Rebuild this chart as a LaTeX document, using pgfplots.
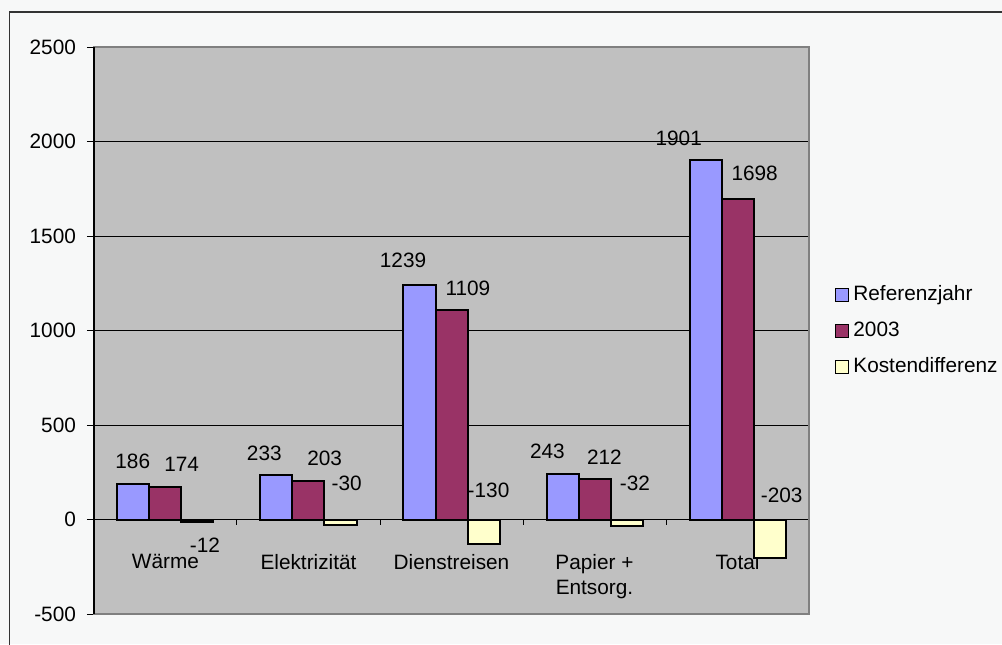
\documentclass[border=0pt]{standalone}
\usepackage{fontspec}
\setmainfont{Liberation Sans}
\usepackage{pgfplots}
\pgfplotsset{compat=1.18}
\definecolor{cblue}{HTML}{9999FF}
\definecolor{cred}{HTML}{993366}
\definecolor{cyel}{HTML}{FFFFCC}
\definecolor{plotbg}{HTML}{C0C0C0}
\definecolor{pagebg}{HTML}{F7F8F8}
\definecolor{bordergray}{HTML}{808080}
\newcommand{\lbl}{\fontsize{10.4}{12.5}\selectfont}
\begin{document}
\begin{tikzpicture}
\fill[pagebg] (0,0) rectangle (501pt,322pt);
\useasboundingbox (0,0) rectangle (501pt,322pt);
\draw[black!80, line width=0.9pt] (4.75pt,-10pt) rectangle (515pt,316pt);
\begin{axis}[
  at={(47pt,15pt)}, anchor=south west,
  scale only axis, width=357.5pt, height=283.5pt,
  xmin=-0.5, xmax=4.5, ymin=-500, ymax=2500,
  ytick={-500,0,500,1000,1500,2000,2500},
  xtick={0,1,2,3,4},
  xticklabels={Wärme,Elektrizität,Dienstreisen,{Papier +\\Entsorg.},Total},
  ybar=0pt, bar width=16pt,
  every axis plot/.append style={draw=black, line width=1pt},
  axis background/.style={fill=plotbg},
  axis line style={draw=bordergray, line width=0.75pt},
  ymajorgrids, grid style={black, line width=0.5pt},
  ytick pos=left, tick align=outside, major tick length=3.5pt,
  tick style={black, line width=0.5pt},
  xtick style={draw=none},
  yticklabel style={font=\lbl, xshift=-2pt},
  xticklabel style={font=\lbl, align=center, anchor=north, inner sep=0pt, yshift=33.5pt},
  /pgf/number format/assume math mode=true,
  /pgf/number format/1000 sep={},
  legend style={at={(1,0.5)}, anchor=west, xshift=13pt, draw=none, fill=none,
    inner sep=0pt, font=\lbl, cells={anchor=west}, row sep=3.5pt,
    nodes={text height=8pt, text depth=2.5pt}},
  legend image code/.code={\draw[#1, line width=0.5pt, draw=black] (0pt,-3.25pt) rectangle (6.5pt,3.25pt);},
  clip=false,
]
\addplot[fill=cblue, draw=black, line width=1pt] coordinates {(0,186) (1,233) (2,1239) (3,243) (4,1901)};
\addplot[fill=cred, draw=black, line width=1pt] coordinates {(0,174) (1,203) (2,1109) (3,212) (4,1698)};
\addplot[fill=cyel, draw=black, line width=1pt] coordinates {(0,-12) (1,-30) (2,-130) (3,-32) (4,-203)};
\legend{Referenzjahr,2003,Kostendifferenz}
\draw[black, line width=0.5pt] (axis cs:-0.5,0) -- (axis cs:4.5,0);
\pgfplotsinvokeforeach{-0.5,0.5,1.5,2.5,3.5,4.5}{\draw[black, line width=0.5pt] (axis cs:#1,0) -- ++(0pt,-2.5pt);}
\draw[bordergray, line width=0.75pt] (rel axis cs:0,0) -- (rel axis cs:1,0) -- (rel axis cs:1,1) -- (rel axis cs:0,1);
\draw[black, line width=0.75pt] (rel axis cs:0,0) -- (rel axis cs:0,1);
\node[font=\lbl, inner sep=0pt] at (axis cs:-0.229,306) {186};
\node[font=\lbl, inner sep=0pt] at (axis cs:0.113,294) {174};
\node[font=\lbl, inner sep=0pt] at (axis cs:0.276,-135) {-12};
\node[font=\lbl, inner sep=0pt] at (axis cs:0.691,350) {233};
\node[font=\lbl, inner sep=0pt] at (axis cs:1.113,324) {203};
\node[font=\lbl, inner sep=0pt] at (axis cs:1.267,193) {-30};
\node[font=\lbl, inner sep=0pt] at (axis cs:1.661,1369) {1239};
\node[font=\lbl, inner sep=0pt] at (axis cs:2.115,1223) {1109};
\node[font=\lbl, inner sep=0pt] at (axis cs:2.259,152) {-130};
\node[font=\lbl, inner sep=0pt] at (axis cs:2.671,359) {243};
\node[font=\lbl, inner sep=0pt] at (axis cs:3.069,332) {212};
\node[font=\lbl, inner sep=0pt] at (axis cs:3.283,192) {-32};
\node[font=\lbl, inner sep=0pt] at (axis cs:3.589,2019) {1901};
\node[font=\lbl, inner sep=0pt] at (axis cs:4.120,1832) {1698};
\node[font=\lbl, inner sep=0pt] at (axis cs:4.309,130) {-203};
\end{axis}
\end{tikzpicture}
\end{document}
